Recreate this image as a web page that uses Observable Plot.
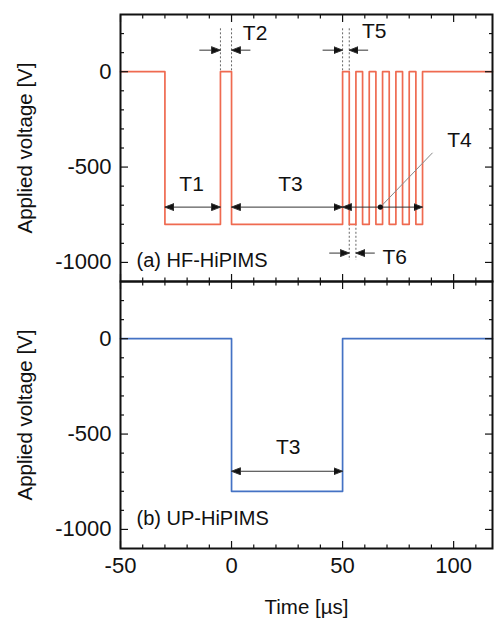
<!DOCTYPE html>
<html><head><meta charset="utf-8">
<script src="https://cdn.jsdelivr.net/npm/d3@7"></script>
<script src="https://cdn.jsdelivr.net/npm/@observablehq/plot@0.6"></script>
<style>body{margin:0;background:#fff} #chart{width:494px;height:619px}</style>
</head><body><div id="chart"></div>
<script>
// ---- data ----
const hfTime = [-50, -30, -5, 0, 50, 53, 56, 59, 62, 65, 68, 71, 74, 77, 80, 83, 86, 117.5];
const hfVolt = [0, -800, 0, -800, 0, -800, 0, -800, 0, -800, 0, -800, 0, -800, 0, -800, 0, 0];
const upTime = [-50, 0, 50, 117.5];
const upVolt = [0, -800, 0, 0];

const majorTicksX = [-50, 0, 50, 100];
const minorTicksX = [-40, -30, -20, -10, 10, 20, 30, 40, 60, 70, 80, 90, 110];
const majorTicksY = [-1000, -500, 0];
const minorTicksY = [-900, -800, -700, -600, -400, -300, -200, -100, 100, 200];

// double-headed spans
const spanStart = [-30, 0, 50, 0];
const spanEnd = [-5, 50, 86, 50];
const spanLevel = [-710, -710, -710, -695];
const spanPanel = ["a", "a", "a", "b"];

// single pointers
const pointerFrom = [-14.5, 8.5, 41, 61.5, 44, 64.5];
const pointerTo = [-5, 0, 50, 53, 53, 56];
const pointerLevel = [113, 113, 113, 113, -951, -951];

// dotted guides
const guideX = [-5, 0, 50, 53, 53, 56];
const guideTop = [225, 225, 225, 225, -800, -800];
const guideBottom = [0, 0, 0, 0, -990, -990];

// labels
const labelText = ["T1", "T2", "T3", "T4", "T5", "T6", "T3"];
const labelX = [-18, 10.6, 26.5, 102.6, 64.2, 73.5, 25.5];
const labelY = [-590, 204, -590, -360, 213, -972, -569];
const labelPanel = ["a", "a", "a", "a", "a", "a", "b"];

const leaderX = [67, 90.5];
const leaderY = [-710, -425];

const panelNames = ["(a) HF-HiPIMS", "(b) UP-HiPIMS"];
const panelNameY = [-988, -942];
const panelKeys = ["a", "b"];
const yTitle = "Applied voltage [V]";
const xTitle = "Time [µs]";

// ---- tables ----
const hf = hfTime.map((t, i) => ({t, v: hfVolt[i], panel: "a"}));
const up = upTime.map((t, i) => ({t, v: upVolt[i], panel: "b"}));
const spans = spanStart.map((s, i) => ({x1: s, x2: spanEnd[i], y: spanLevel[i], panel: spanPanel[i]}));
const pointers = pointerFrom.map((s, i) => ({x1: s, x2: pointerTo[i], y: pointerLevel[i], panel: "a"}));
const guides = guideX.map((x, i) => ({x, y1: guideTop[i], y2: guideBottom[i], panel: "a"}));
const labels = labelText.map((s, i) => ({s, x: labelX[i], y: labelY[i], panel: labelPanel[i]}));
const leader = [{x1: leaderX[0], y1: leaderY[0], x2: leaderX[1], y2: leaderY[1], panel: "a"}];
const names = panelNames.map((s, i) => ({s, x: -42.8, y: panelNameY[i], panel: panelKeys[i]}));
const yTitles = panelKeys.map(k => ({s: yTitle, x: -50, y: -400, panel: k}));
const xTitles = [{s: xTitle, panel: "b"}];

function filledArrow(color, context) {
  const doc = (context && context.document) || document;
  const ns = "http://www.w3.org/2000/svg";
  const m = doc.createElementNS(ns, "marker");
  m.setAttribute("viewBox", "-9 -4 10 8");
  m.setAttribute("markerWidth", 10);
  m.setAttribute("markerHeight", 8);
  m.setAttribute("markerUnits", "userSpaceOnUse");
  m.setAttribute("orient", "auto-start-reverse");
  const p = doc.createElementNS(ns, "path");
  p.setAttribute("d", "M-9,-3.5L0,0L-9,3.5Z");
  p.setAttribute("fill", "#111");
  m.appendChild(p);
  return m;
}

const fmt = d => String(d);

function build(marker) {
  const tickOpts = {fill: "none", stroke: "#111", strokeWidth: 1.2, facetAnchor: null, label: null};
  return Plot.plot({
    width: 494, height: 619,
    marginLeft: 120, marginRight: 2, marginTop: 13, marginBottom: 71,
    x: {domain: [-50, 117.5]},
    y: {domain: [-1100, 300]},
    fy: {domain: panelKeys, padding: 0, axis: null},
    style: {fontFamily: "'Liberation Sans', Arial, sans-serif", fontSize: "20px", color: "#111", background: "#fff"},
    marks: [
      Plot.ruleX(guides, {x: "x", y1: "y1", y2: "y2", fy: "panel", stroke: "#666", strokeWidth: 1, strokeDasharray: "2,2"}),
      Plot.line(hf, {x: "t", y: "v", fy: "panel", curve: "step-after", stroke: "#ef6a50", strokeWidth: 1.7}),
      Plot.line(up, {x: "t", y: "v", fy: "panel", curve: "step-after", stroke: "#4472c4", strokeWidth: 1.7}),
      Plot.link(spans, {x1: "x1", x2: "x2", y1: "y", y2: "y", fy: "panel", stroke: "#333", strokeWidth: 1, markerStart: marker, markerEnd: marker}),
      Plot.link(pointers, {x1: "x1", x2: "x2", y1: "y", y2: "y", fy: "panel", stroke: "#333", strokeWidth: 1, markerEnd: marker}),
      Plot.link(leader, {x1: "x1", y1: "y1", x2: "x2", y2: "y2", fy: "panel", stroke: "#888", strokeWidth: 1}),
      Plot.dot(leader, {x: "x1", y: "y1", fy: "panel", r: 2.6, fill: "#111"}),
      Plot.text(labels, {x: "x", y: "y", text: "s", fy: "panel", fontSize: 21, fill: "#111"}),
      Plot.text(names, {x: "x", y: "y", text: "s", fy: "panel", textAnchor: "start", fontSize: 20, fill: "#111"}),
      Plot.text(yTitles, {x: "x", y: "y", text: "s", fy: "panel", rotate: -90, dx: -95, fontSize: 20.5, fill: "#111", clip: false}),
      Plot.text(xTitles, {text: "s", fy: "panel", frameAnchor: "bottom", dy: 59, lineAnchor: "middle", fontSize: 20.5, fill: "#111"}),
      Plot.frame({stroke: "#111", strokeWidth: 2}),
      Plot.axisX(majorTicksX, {...tickOpts, anchor: "bottom", tickSize: -7}),
      Plot.axisX(majorTicksX, {...tickOpts, anchor: "top", tickSize: -7}),
      Plot.axisX(minorTicksX, {...tickOpts, anchor: "bottom", tickSize: -3.5}),
      Plot.axisX(minorTicksX, {...tickOpts, anchor: "top", tickSize: -3.5}),
      Plot.axisY(majorTicksY, {...tickOpts, anchor: "left", tickSize: -8}),
      Plot.axisY(majorTicksY, {...tickOpts, anchor: "right", tickSize: -8}),
      Plot.axisY(minorTicksY, {...tickOpts, anchor: "left", tickSize: -4}),
      Plot.axisY(minorTicksY, {...tickOpts, anchor: "right", tickSize: -4}),
      Plot.axisX(majorTicksX, {anchor: "bottom", tickSize: 0, tickPadding: 9, fontSize: 22, fill: "#111", tickFormat: fmt, label: null}),
      Plot.axisY(majorTicksY, {anchor: "left", tickSize: 0, tickPadding: 9, fontSize: 22, fill: "#111", tickFormat: fmt, label: null, facetAnchor: null})
    ]
  });
}

let chart;
try { chart = build(filledArrow); } catch (e) { chart = build("arrow"); }
document.getElementById("chart").appendChild(chart);
</script></body></html>
